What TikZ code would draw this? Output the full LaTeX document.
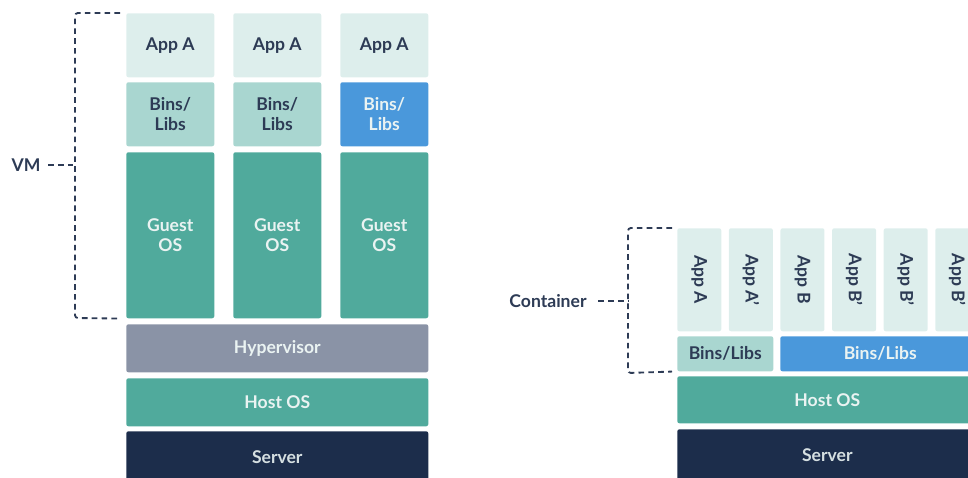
\documentclass[tikz,border=0pt]{standalone}
\usepackage{fontspec}
\setmainfont{Lato}
\usetikzlibrary{positioning}

\definecolor{appfill}{HTML}{DDEEEC}
\definecolor{binsfill}{HTML}{A9D6D0}
\definecolor{bluefill}{HTML}{4A98DB}
\definecolor{osfill}{HTML}{50AA9C}
\definecolor{hypfill}{HTML}{8A93A6}
\definecolor{srvfill}{HTML}{1C2D4B}
\definecolor{txtdark}{HTML}{2D3B55}
\definecolor{txtlight}{HTML}{EAF3F2}

\tikzset{
  blk/.style={rounded corners=1.5pt, inner sep=0pt, anchor=north west, align=center,
    font=\bfseries\fontsize{12.5}{14}\selectfont},
  app/.style={blk, fill=appfill, text=txtdark},
  bins/.style={blk, fill=binsfill, text=txtdark},
  binsblue/.style={blk, fill=bluefill, text=txtlight},
  os/.style={blk, fill=osfill, text=txtlight},
  hyp/.style={blk, fill=hypfill, text=txtlight},
  srv/.style={blk, fill=srvfill, text=txtlight!90!srvfill},
  tag/.style={text=txtdark, font=\bfseries\fontsize{12.5}{14}\selectfont, inner sep=1pt},
  brace/.style={draw=txtdark, line width=1.3pt, dash pattern=on 4pt off 3pt, rounded corners=2pt}
}

\begin{document}
\begin{tikzpicture}
  \clip (0,0) rectangle (24.2,11.925);
  % virtual machines
  \foreach \i/\x/\b in {1/3.15/bins,2/5.825/bins,3/8.5/binsblue}{
    \node[app, minimum width=2.2cm, minimum height=1.6cm] (vmapp\i) at (\x,11.6) {App A};
    \node[\b, minimum width=2.2cm, minimum height=1.6cm] (vmbins\i) at (\x,9.875) {Bins/\\Libs};
    \node[os, minimum width=2.2cm, minimum height=4.15cm] (guest\i) at (\x,8.125) {Guest\\OS};
  }
  \node[hyp, minimum width=7.55cm, minimum height=1.2cm] (hyper) at (3.15,3.825) {Hypervisor};
  \node[os, minimum width=7.55cm, minimum height=1.2cm] (vmhost) at (3.15,2.475) {Host OS};
  \node[srv, minimum width=7.55cm, minimum height=1.3cm] (vmserver) at (3.15,1.15) {Server};
  % VM brace
  \node[tag] (vmlabel) at (0.65,7.79) {VM};
  \coordinate (vmmid) at (1.875,7.79);
  \draw[brace] ([xshift=-0.15cm]vmapp1.north west) -- (1.875,11.6) -- (1.875,3.975) -- ([xshift=-0.15cm]guest1.south west);
  \draw[brace, rounded corners=0pt] ([xshift=0.15cm]vmlabel.east) -- (vmmid);

  % containers
  \foreach \i/\t in {0/App A,1/App A',2/App B,3/App B',4/App B',5/App B'}{
    \node[app, minimum width=1.1cm, minimum height=2.575cm] (ctapp\i) at (16.925+\i*1.29,6.225) {};
    \node[tag, rotate=-90] at (ctapp\i.center) {\t};
  }
  \node[bins, minimum width=2.4cm, minimum height=0.875cm] (ctbins1) at (16.925,3.525) {Bins/Libs};
  \node[binsblue, minimum width=5cm, minimum height=0.875cm] (ctbins2) at (19.5,3.525) {Bins/Libs};
  \node[os, minimum width=8cm, minimum height=1.175cm] (cthost) at (16.925,2.525) {\hspace*{-0.5cm}Host OS};
  \node[srv, minimum width=8cm, minimum height=1.3cm] (ctserver) at (16.925,1.2) {\hspace*{-0.5cm}Server};
  % container brace
  \node[tag] (ctlabel) at (13.7,4.41) {Container};
  \coordinate (ctmid) at (15.7,4.41);
  \draw[brace] ([xshift=-0.125cm]ctapp0.north west) -- (15.7,6.225) -- (15.7,2.6) -- ([xshift=-0.125cm]ctbins1.south west);
  \draw[brace, rounded corners=0pt] ([xshift=0.25cm]ctlabel.east) -- (ctmid);
\end{tikzpicture}
\end{document}
